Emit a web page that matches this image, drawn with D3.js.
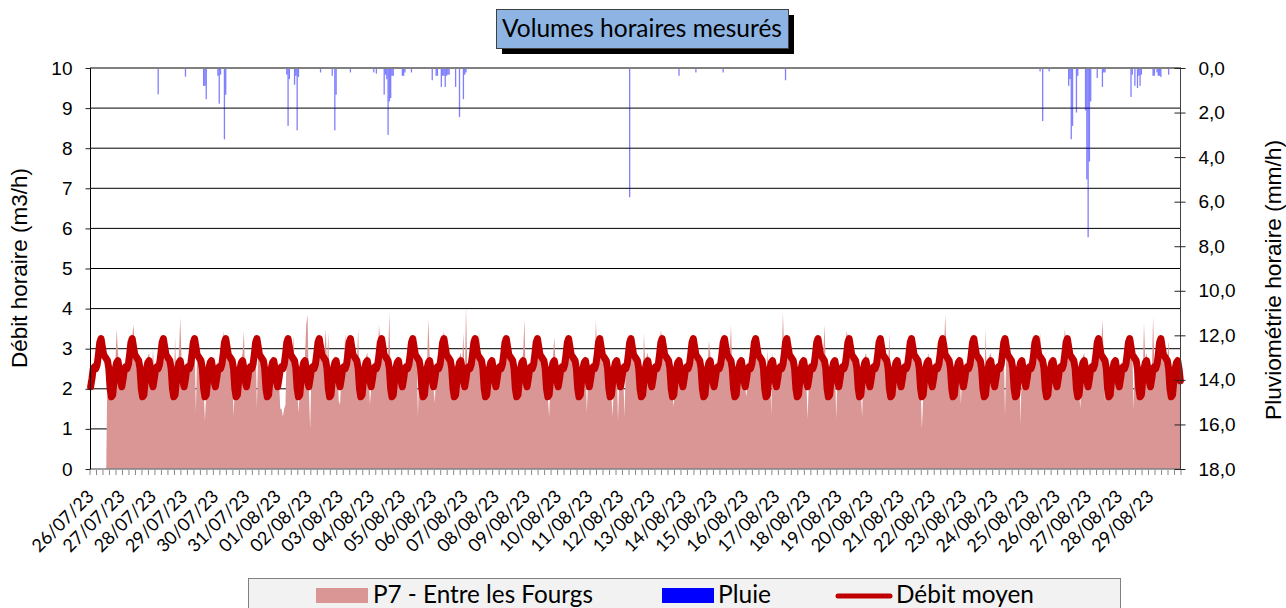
<!DOCTYPE html>
<html><head><meta charset="utf-8">
<script src="https://cdn.jsdelivr.net/npm/d3@7"></script>
<style>body{margin:0;background:#fff}svg{display:block}</style>
</head><body>
<svg id="c" width="1286" height="608"></svg>
<script>
// ---- DATA ----
const dateLabels = ["26/07/23","27/07/23","28/07/23","29/07/23","30/07/23","31/07/23",
 "01/08/23","02/08/23","03/08/23","04/08/23","05/08/23","06/08/23","07/08/23","08/08/23","09/08/23","10/08/23",
 "11/08/23","12/08/23","13/08/23","14/08/23","15/08/23","16/08/23","17/08/23","18/08/23","19/08/23","20/08/23",
 "21/08/23","22/08/23","23/08/23","24/08/23","25/08/23","26/08/23","27/08/23","28/08/23","29/08/23"];
const leftTicks = [0,1,2,3,4,5,6,7,8,9,10];
const rightTicks = [0,2,4,6,8,10,12,14,16,18];
// Débit moyen : profil horaire journalier (m3/h)
const meanProfile = [2.05,2.25,2.5,2.55,2.5,2.6,2.85,3.15,3.25,3.05,2.85,2.8,2.75,2.7,2.5,2.0,1.8,1.85,2.2,2.5,2.65,2.7,2.5,2.2];
// P7 - Entre les Fourgs : volumes horaires (m3/h), one row per day
const p7ByDay = [
 [0,0,0,0,0,0,0,0,0,0,0,0,0,2.8,2.6,2.0,1.9,2.0,2.4,2.6,3.5,2.9,2.6,2.2],
 [2.0,2.4,2.6,2.6,2.5,2.7,3.0,3.2,3.3,3.6,3.0,2.9,2.8,2.9,2.6,2.1,1.8,1.9,2.3,2.6,2.8,2.9,2.6,2.3],
 [3.0,2.3,2.5,2.7,2.6,2.6,2.9,3.3,3.2,3.1,2.9,3.0,2.8,2.7,2.5,2.0,1.9,3.3,2.2,2.6,2.9,3.78,2.7,2.2],
 [2.1,2.3,2.6,2.5,2.5,2.7,2.9,3.2,3.3,1.4,2.9,2.8,2.9,2.8,2.5,2.0,1.2,1.9,2.2,2.5,2.8,2.8,2.5,2.3],
 [2.0,2.3,2.5,2.6,2.6,2.7,3.45,3.1,3.3,3.1,2.9,2.9,2.8,2.8,1.3,2.0,1.8,1.9,2.3,2.6,2.7,2.9,3.45,2.2],
 [2.1,2.2,2.5,2.6,2.4,2.6,2.9,3.2,1.5,3.0,2.9,2.8,2.9,2.7,2.6,2.1,1.8,1.8,2.2,2.5,2.8,2.8,2.5,2.2],
 [2.0,2.2,1.5,1.5,1.3,1.5,1.6,3.1,3.3,3.0,2.9,2.8,3.3,2.7,2.5,2.0,1.4,1.9,2.3,2.6,2.7,2.8,3.6,3.85],
 [2.0,0.98,2.5,2.6,2.5,2.7,2.9,3.2,3.2,3.1,2.9,2.8,2.9,3.5,2.6,3.4,1.8,1.9,2.2,2.6,2.8,2.8,2.5,1.7],
 [1.6,2.3,2.5,2.6,3.4,2.6,2.9,3.2,3.3,3.0,2.9,2.8,2.8,2.7,3.5,2.0,1.8,1.9,2.3,2.5,2.8,2.9,2.6,1.6],
 [2.0,2.3,2.5,2.6,2.5,2.7,3.6,3.2,3.3,3.1,2.9,2.9,2.8,2.8,3.9,2.1,1.9,1.9,2.2,2.6,2.8,2.8,2.6,2.2],
 [2.1,2.3,2.6,2.6,2.5,2.6,2.9,3.2,3.3,3.0,3.0,2.8,1.3,2.7,2.5,2.0,1.8,1.9,2.3,2.6,3.75,2.8,2.5,2.3],
 [2.0,1.65,2.5,2.6,2.5,2.7,2.9,3.2,3.45,3.1,2.9,2.9,2.8,2.8,2.6,2.0,1.8,1.9,2.3,2.5,2.8,2.9,2.6,3.4],
 [2.1,4.06,2.5,2.6,2.6,2.7,3.0,3.2,3.3,3.1,2.9,3.4,2.8,2.7,2.5,2.0,1.8,1.9,2.2,2.6,2.8,2.8,2.5,2.2],
 [2.0,2.3,2.6,2.5,2.5,2.7,2.9,3.3,3.2,3.0,2.9,2.8,2.9,2.8,2.6,2.1,1.8,1.9,2.3,2.6,2.7,2.9,3.75,2.2],
 [2.1,2.3,2.5,2.6,2.5,2.6,2.9,3.2,3.3,3.1,3.0,2.9,2.8,2.7,2.5,2.0,1.8,1.3,2.2,2.6,2.8,3.3,2.6,2.3],
 [2.0,2.2,2.5,2.6,2.6,2.7,3.0,3.2,3.3,3.0,2.9,2.8,2.9,2.8,2.6,2.0,1.9,1.9,2.3,2.5,2.8,2.8,1.4,2.2],
 [2.1,2.3,2.6,2.6,2.5,3.7,2.9,3.2,3.3,3.1,2.9,2.9,2.8,2.7,2.5,2.1,1.8,1.8,1.3,2.6,2.7,2.8,1.2,2.2],
 [2.0,2.3,2.5,1.3,2.5,2.7,2.9,3.2,3.2,3.0,2.9,2.8,2.9,2.8,2.6,2.0,1.8,1.9,3.4,2.6,2.8,2.9,2.6,2.3],
 [2.1,2.2,2.5,2.6,2.5,2.7,3.0,3.45,3.3,3.1,3.0,2.9,2.8,2.7,2.5,2.0,1.8,1.55,2.3,2.6,2.8,2.8,2.5,2.2],
 [2.0,2.3,2.6,2.6,2.6,2.6,2.9,3.2,3.3,3.0,2.9,2.8,2.9,2.8,2.6,2.1,1.9,1.9,2.2,2.5,3.2,2.9,2.6,2.3],
 [2.1,2.3,2.5,2.5,2.5,2.7,2.9,3.3,3.2,3.1,2.9,2.9,2.8,3.6,2.5,2.0,1.8,1.9,2.3,2.6,2.8,2.8,2.5,2.2],
 [2.0,1.8,2.5,2.6,2.5,2.7,3.0,3.2,3.3,3.0,3.0,2.8,2.8,2.7,2.6,2.0,1.8,3.0,2.2,2.6,1.35,2.9,2.6,2.3],
 [2.1,2.3,2.6,2.6,2.6,3.9,2.9,3.2,3.3,3.1,2.9,2.9,2.9,2.8,2.5,2.1,1.9,1.9,2.3,2.5,2.8,2.8,2.5,2.2],
 [1.25,2.2,2.5,2.6,2.5,2.6,2.9,3.2,3.2,3.0,2.9,2.8,2.8,3.6,2.6,2.0,1.8,1.9,2.2,2.6,2.7,2.8,1.25,2.3],
 [2.0,2.3,2.5,2.5,2.6,2.7,3.45,3.3,3.3,3.1,3.0,2.9,2.8,2.7,2.5,2.0,1.8,1.9,1.3,2.6,2.8,2.9,2.6,2.2],
 [2.1,2.3,2.6,2.6,2.5,2.7,2.9,3.2,3.3,3.0,2.9,2.8,2.9,2.8,2.6,3.4,1.9,1.9,2.3,2.5,2.8,2.8,2.5,2.3],
 [2.0,2.2,2.5,2.6,2.5,2.6,3.0,3.2,3.3,3.1,2.9,2.9,2.8,2.7,2.5,2.1,1.0,1.8,2.2,2.6,2.7,2.9,2.6,2.2],
 [2.1,2.3,2.5,2.6,2.6,2.7,2.9,3.3,3.2,3.0,3.85,2.8,2.8,2.8,2.6,2.0,1.8,1.9,2.3,2.6,2.8,2.8,1.6,2.3],
 [2.0,2.3,2.6,2.5,2.5,2.7,2.9,3.2,3.3,3.1,2.9,2.9,2.9,2.7,2.5,2.0,1.9,3.5,2.2,2.5,2.8,2.9,2.6,2.2],
 [2.1,2.2,2.5,2.6,2.6,2.6,3.0,3.2,1.3,3.0,2.9,2.8,2.8,2.8,2.6,2.1,1.8,1.9,2.3,2.6,1.1,2.8,2.5,2.3],
 [2.0,2.3,2.5,2.6,2.5,2.7,2.9,3.3,3.3,3.1,3.0,3.4,2.8,2.7,2.5,2.0,1.8,1.8,2.2,2.6,2.7,2.8,2.6,2.2],
 [2.1,2.3,2.6,2.6,2.5,2.7,3.5,3.2,3.2,3.0,2.9,2.9,2.9,2.8,2.6,2.0,1.9,1.9,1.5,2.5,2.8,2.9,2.5,2.3],
 [2.0,2.2,2.5,2.5,2.6,2.7,2.9,3.2,3.3,3.1,2.9,3.73,2.8,1.65,2.5,2.1,1.8,1.9,2.3,2.6,2.8,2.8,2.6,2.2],
 [2.1,2.3,2.5,2.6,2.5,2.6,3.0,3.3,3.3,3.0,3.0,1.45,2.8,2.7,2.6,2.0,1.8,1.9,2.2,3.65,2.7,2.9,2.6,2.3],
 [2.0,2.3,3.8,2.6,2.6,2.7,2.9,3.2,3.2,3.1,2.9,2.8,2.9,2.8,3.2,2.0,1.9,1.9,2.3,2.5,2.8,2.8,2.5,2.2]
];
// Pluie : hour index from start and rainfall (mm/h)
const rainHour = [52,73,87,88,89,98,99,100,103,104,151,152,153,157,158,159,160,177,186,188,189,200,218,220,
 226,227,228,229,230,231,232,233,240,241,242,247,263,266,267,270,271,272,273,274,275,276,281,284,287,288,289,
 415,453,466,487,535,731,733,738,753,754,755,756,759,760,766,767,768,769,770,775,779,780,781,
 801,802,804,806,807,808,809,818,819,821,822,823,824,830];
const rainMm = [1.18,0.39,0.8,0.8,1.4,0.35,1.6,0.3,3.2,1.2,0.3,2.6,0.5,0.75,0.35,2.8,0.4,0.2,0.35,2.8,1.2,0.2,0.2,0.25,
 1.2,0.3,0.5,3.0,1.5,1.35,0.35,0.35,0.35,0.35,0.2,0.2,0.55,0.35,0.35,0.85,0.35,0.35,0.85,0.35,0.3,0.3,0.85,2.2,1.4,0.3,0.2,
 5.8,0.35,0.2,0.2,0.55,0.15,2.38,0.15,0.8,0.5,3.2,2.6,2.0,0.35,1.9,5.0,7.6,4.2,1.5,0.45,0.85,0.2,0.2,
 1.3,0.3,0.8,0.9,0.35,0.8,0.3,0.35,0.35,0.2,0.35,0.35,0.4,0.3];

// ---- CHART ----
const nHours = dateLabels.length * 24;
const p7 = p7ByDay.flat();
const meanSeries = d3.range(nHours).map(i => meanProfile[i % 24]);

const svg = d3.select("#c");
const x = d3.scaleLinear().domain([0, nHours]).range([90, 1181]);
const y = d3.scaleLinear().domain([0, 10]).range([469, 68]);
const yR = d3.scaleLinear().domain([0, 18]).range([68, 469]);
const sansA = "'Liberation Sans', Arial, sans-serif";
const sansC = "Lato, 'Open Sans', sans-serif";

function fitWidth(sel, target) {
  const w = sel.node().getComputedTextLength();
  const fs = parseFloat(sel.attr("font-size"));
  sel.attr("font-size", (fs * target / w).toFixed(2));
}

// gridlines
svg.append("g").selectAll("line").data(leftTicks.filter(v => v > 0 && v < 10)).join("line")
  .attr("x1", 90).attr("x2", 1181).attr("y1", d => y(d)).attr("y2", d => y(d))
  .attr("stroke", "#000").attr("stroke-width", 1);

// P7 area
svg.append("path").datum(p7)
  .attr("d", d3.area().x((d, i) => x(i + 0.5)).y0(y(0)).y1(d => y(d)))
  .attr("fill", "#D99694");

// rain bars
svg.append("g").selectAll("rect").data(rainHour).join("rect")
  .attr("x", d => x(d)).attr("width", d => x(d + 1) - x(d))
  .attr("y", yR(0)).attr("height", (d, i) => yR(rainMm[i]) - yR(0))
  .attr("fill", "#0000FF").attr("fill-opacity", 0.5);

// mean line
svg.append("path").datum(meanSeries)
  .attr("d", d3.line().x((d, i) => x(i + 0.5)).y(d => y(d)))
  .attr("fill", "none").attr("stroke", "#C00000").attr("stroke-width", 7)
  .attr("stroke-linejoin", "round").attr("stroke-linecap", "round");

// frame lines
svg.append("line").attr("x1", 90).attr("x2", 1181).attr("y1", 68).attr("y2", 68)
  .attr("stroke", "#808080").attr("stroke-width", 2);
svg.append("line").attr("x1", 90).attr("x2", 1181).attr("y1", y(0)).attr("y2", y(0))
  .attr("stroke", "#808080").attr("stroke-width", 1.3);

// left axis
const gL = svg.append("g").attr("transform", "translate(90.5,0)")
  .call(d3.axisLeft(y).tickValues(leftTicks).tickSize(5).tickPadding(13).tickFormat(d3.format("d")));
gL.select(".domain").attr("stroke", "#000").attr("d", `M0,${y(10)}V${y(0)}`);
gL.selectAll(".tick line").attr("stroke", "#222");
gL.selectAll("text").attr("font-family", sansA).attr("font-size", 19).attr("fill", "#000");

// right axis
const gR = svg.append("g").attr("transform", "translate(1180.5,0)")
  .call(d3.axisRight(yR).tickValues(rightTicks).tickSize(5).tickPadding(13)
    .tickFormat(d => d.toFixed(1).replace(".", ",")));
gR.select(".domain").attr("stroke", "#404040").attr("d", `M0,${yR(0)}V${yR(18)}`);
gR.selectAll(".tick line").attr("x1", -6).attr("stroke", "#222");
gR.selectAll("text").attr("font-family", sansA).attr("font-size", 19).attr("fill", "#000");

// x minor ticks every 5 hours
svg.append("g").selectAll("line").data(d3.range(0, nHours + 1, 5)).join("line")
  .attr("x1", d => x(d)).attr("x2", d => x(d)).attr("y1", 470).attr("y2", 475)
  .attr("stroke", "#888").attr("stroke-width", 1);

// x labels
const xl = svg.append("g").selectAll("text").data(dateLabels).join("text")
  .attr("transform", (d, i) => `translate(${x(i * 24 + 0.5) + 4.4},497.5) rotate(-45)`)
  .attr("text-anchor", "end").attr("font-family", sansC).attr("font-size", 17).attr("fill", "#000")
  .text(d => d);
{ const first = d3.select(xl.nodes()[0]); const w = first.node().getComputedTextLength();
  const fs = 17 * 79 / w; xl.attr("font-size", fs.toFixed(2)); }

// axis titles
const tL = svg.append("text").attr("transform", "translate(27,268) rotate(-90)")
  .attr("text-anchor", "middle").attr("font-family", sansA).attr("font-size", 19).attr("fill", "#000")
  .text("Débit horaire (m3/h)");
fitWidth(tL, 200);
const tR = svg.append("text").attr("transform", "translate(1281,280) rotate(-90)")
  .attr("text-anchor", "middle").attr("font-family", sansA).attr("font-size", 19).attr("fill", "#000")
  .text("Pluviométrie horaire (mm/h)");
fitWidth(tR, 280);

// title box
svg.append("rect").attr("x", 502).attr("y", 15).attr("width", 292).attr("height", 39).attr("fill", "#000");
svg.append("rect").attr("x", 496.5).attr("y", 9.5).attr("width", 292).attr("height", 39)
  .attr("fill", "#8DB4E2").attr("stroke", "#404040").attr("stroke-width", 1);
const tt = svg.append("text").attr("x", 642).attr("y", 37).attr("text-anchor", "middle")
  .attr("font-family", sansC).attr("font-size", 22).attr("fill", "#000").text("Volumes horaires mesurés");
fitWidth(tt, 280);

// legend
svg.append("rect").attr("x", 248.5).attr("y", 578.5).attr("width", 872).attr("height", 40)
  .attr("fill", "#F2F2F2").attr("stroke", "#808080");
svg.append("rect").attr("x", 316).attr("y", 588).attr("width", 52).attr("height", 15).attr("fill", "#D99694");
svg.append("rect").attr("x", 662).attr("y", 588).attr("width", 52).attr("height", 15).attr("fill", "#0000FF");
svg.append("line").attr("x1", 838).attr("x2", 890).attr("y1", 596).attr("y2", 596)
  .attr("stroke", "#C00000").attr("stroke-width", 5).attr("stroke-linecap", "round");
const legItems = [["P7 - Entre les Fourgs", 373, 220], ["Pluie", 718, 53], ["Débit moyen", 896, 138]];
legItems.forEach(([t, lx, w]) => {
  const s = svg.append("text").attr("x", lx).attr("y", 603).attr("font-family", sansC)
    .attr("font-size", 21).attr("fill", "#000").text(t);
  fitWidth(s, w);
});
</script>
</body></html>
